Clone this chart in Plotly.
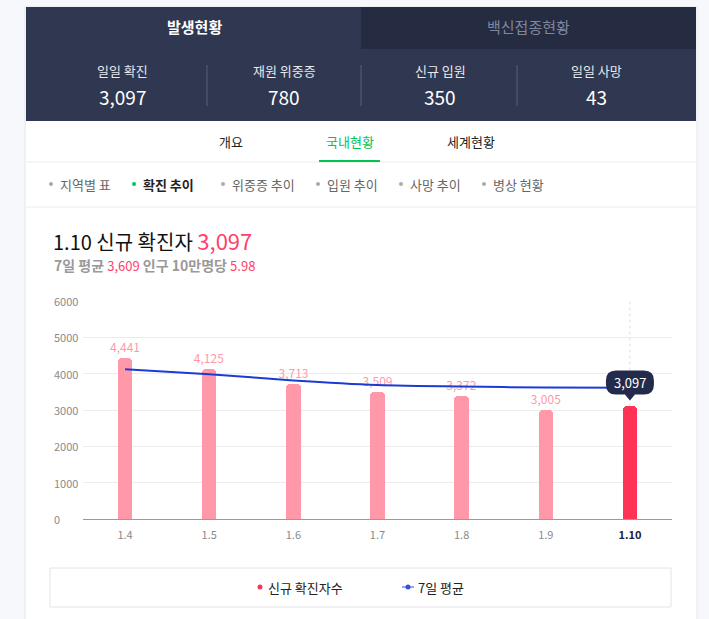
import plotly.graph_objects as go

W, H = 709, 619

# ---------------- data ----------------
dates = ["1.4", "1.5", "1.6", "1.7", "1.8", "1.9", "1.10"]
new_cases = [4441, 4125, 3713, 3509, 3372, 3005, 3097]
avg7 = [4124, 3985, 3815, 3690, 3645, 3618, 3609]
y_ticks = [0, 1000, 2000, 3000, 4000, 5000, 6000]

top_tabs = ["발생현황", "백신접종현황"]
stat_labels = ["일일 확진", "재원 위중증", "신규 입원", "일일 사망"]
stat_values = ["3,097", "780", "350", "43"]
sub_tabs = ["개요", "국내현황", "세계현황"]
chips = ["지역별 표", "확진 추이", "위중증 추이", "입원 추이", "사망 추이", "병상 현황"]
legend_names = ["신규 확진자수", "7일 평균"]

FONT = "Noto Sans CJK KR, Noto Sans, sans-serif"
PINK = "#ff98a9"
RED = "#ff3355"
NAVY = "#232b4d"


def px(x):
    return x / W


def py(y):
    return 1 - y / H


shapes = []
ann = []


def rect(x0, y0, x1, y1, fill, line=None, lw=0, layer="below"):
    shapes.append(dict(type="rect", xref="paper", yref="paper",
                       x0=px(x0), x1=px(x1), y0=py(y1), y1=py(y0),
                       fillcolor=fill, line=dict(color=line or fill, width=lw), layer=layer))


def hline(x0, x1, y, color, w=1, layer="below"):
    shapes.append(dict(type="line", xref="paper", yref="paper",
                       x0=px(x0), x1=px(x1), y0=py(y), y1=py(y),
                       line=dict(color=color, width=w), layer=layer))


def vline(x, y0, y1, color, w=1):
    shapes.append(dict(type="line", xref="paper", yref="paper",
                       x0=px(x), x1=px(x), y0=py(y0), y1=py(y1),
                       line=dict(color=color, width=w), layer="below"))


def text(x, y, s, size=13, color="#222", anchor="center", font=FONT, pad=1):
    ann.append(dict(xref="paper", yref="paper", x=px(x), y=py(y), text=s,
                    showarrow=False, xanchor=anchor, yanchor="middle", borderpad=pad,
                    font=dict(size=size, color=color, family=font)))


def dot(x, y, r, color):
    shapes.append(dict(type="circle", xref="paper", yref="paper",
                       x0=px(x - r), x1=px(x + r), y0=py(y + r), y1=py(y - r),
                       fillcolor=color, line=dict(width=0), layer="above"))


# card
rect(25, 7, 697, 640, "#ffffff", "#e3e6eb", 1)
# header
rect(26, 7, 696, 121, "#2f3850")
rect(361, 7, 696, 49, "#252c41")
text(194, 27, "<b>" + top_tabs[0] + "</b>", 15, "#ffffff")
text(528, 27, top_tabs[1], 15, "#7f879d")
stat_x = [122, 284, 440, 596]
for i, (lab, val) in enumerate(zip(stat_labels, stat_values)):
    text(stat_x[i], 71, lab, 13, "#e6e8ee", pad=0)
    text(stat_x[i], 96, val, 19, "#ffffff", pad=0)
for x in [207, 361, 517]:
    vline(x, 65, 106, "#59617a")

# sub tabs
sub_x = [231, 350, 471]
for i, s in enumerate(sub_tabs):
    col = "#00c454" if i == 1 else "#222222"
    text(sub_x[i], 141, s, 13, col)
hline(26, 696, 162, "#ececec", 1)
hline(319, 380, 161, "#00c454", 2, layer="above")

# chips row
chip_x = [58, 141, 230, 325, 408, 491]
for i, s in enumerate(chips):
    if i == 1:
        dot(chip_x[i] - 7, 184, 2, "#00c454")
        text(chip_x[i], 184, "<b>" + s + "</b>", 13, "#222222", anchor="left")
    else:
        dot(chip_x[i] - 7, 184, 2, "#aaaaaa")
        text(chip_x[i], 184, s, 13, "#666666", anchor="left")
hline(26, 696, 207, "#ececec", 1)

# title
text(51, 240, "1.10 신규 확진자 <span style='color:#ff3f6b;font-size:22px'>3,097</span>",
     20, "#111111", anchor="left")
text(52, 265, "<b>7일 평균</b> <span style='color:#ff3f6b;font-size:13px'>3,609</span> "
     "<b>인구 10만명당</b> <span style='color:#ff3f6b;font-size:13px'>5.98</span>",
     14, "#9a9a9a", anchor="left")

# legend box
rect(50, 568, 671, 607, "#ffffff", "#e4e4e4", 1)
dot(260, 587, 2.5, RED)
text(266, 587, legend_names[0], 13, "#222222", anchor="left")
hline(402, 414, 587, "#98a6e8", 2, layer="above")
dot(408, 587, 2.5, "#3553d6")
text(416, 587, legend_names[1], 13, "#222222", anchor="left")

# y tick labels (left aligned, via y scale)
for v in y_ticks:
    ann.append(dict(xref="paper", yref="y", x=px(52), y=v, text=str(v), showarrow=False,
                    xanchor="left", yanchor="middle",
                    font=dict(size=11, color="#8a8a8a", family=FONT)))

last = len(dates) - 1
bar_colors = [PINK] * last + [RED]
bar_text = [f"{v:,}" for v in new_cases[:-1]] + [""]

fig = go.Figure()
fig.add_trace(go.Bar(
    x=list(range(len(dates))), y=new_cases, width=0.172,
    marker=dict(color=bar_colors, cornerradius=4, line=dict(width=0)),
    text=bar_text, textposition="outside", cliponaxis=False, constraintext="none",
    textfont=dict(color=PINK, size=12, family=FONT),
    showlegend=False, hoverinfo="skip"))
fig.add_trace(go.Scatter(
    x=list(range(len(dates))), y=avg7, mode="lines",
    line=dict(color="#1c3bd4", width=2, shape="spline", smoothing=0.6),
    showlegend=False, hoverinfo="skip"))

# crosshair on last date
shapes.append(dict(type="line", xref="x", yref="y", x0=last, x1=last, y0=new_cases[last],
                   y1=6000, line=dict(color="#dddddd", width=1, dash="dot"), layer="below"))
# tooltip bubble
shapes.append(dict(type="path", xref="x", yref="y", xsizemode="pixel", ysizemode="pixel",
                   xanchor=last, yanchor=new_cases[last],
                   path="M -14,12 L -5,12 L 0,6 L 5,12 L 14,12 Q 24,12 24,22 L 24,26 "
                        "Q 24,36 14,36 L -14,36 Q -24,36 -24,26 L -24,22 Q -24,12 -14,12 Z",
                   fillcolor=NAVY, line=dict(width=0), layer="above"))
ann.append(dict(xref="x", yref="y", x=last, y=new_cases[last], yshift=24,
                text=f"{new_cases[last]:,}", showarrow=False, xanchor="center", yanchor="middle",
                font=dict(size=13, color="#ffffff", family=FONT)))

tick_text = dates[:-1] + ["<b><span style='color:#1b2140'>" + dates[-1] + "</span></b>"]

fig.update_layout(
    width=W, height=H, margin=dict(l=0, r=0, t=0, b=0),
    paper_bgcolor="#f7f8fb", plot_bgcolor="rgba(0,0,0,0)",
    font=dict(family=FONT),
    shapes=shapes, annotations=ann, showlegend=False,
    bargap=0,
    xaxis=dict(domain=[px(83), px(672)], range=[-0.5, 6.5], tickmode="array",
               tickvals=list(range(len(dates))), ticktext=tick_text,
               tickfont=dict(size=11, color="#8a8a8a"), showgrid=False, zeroline=False,
               showline=True, linecolor="#9a9a9a", linewidth=1, ticks="",
               ticklabelstandoff=6, fixedrange=True),
    yaxis=dict(domain=[py(519), py(301)], range=[0, 6000], tickvals=y_ticks,
               showticklabels=False, showgrid=True, gridcolor="#ececec", gridwidth=1,
               zeroline=False, fixedrange=True),
)

fig.write_html("out.html")
